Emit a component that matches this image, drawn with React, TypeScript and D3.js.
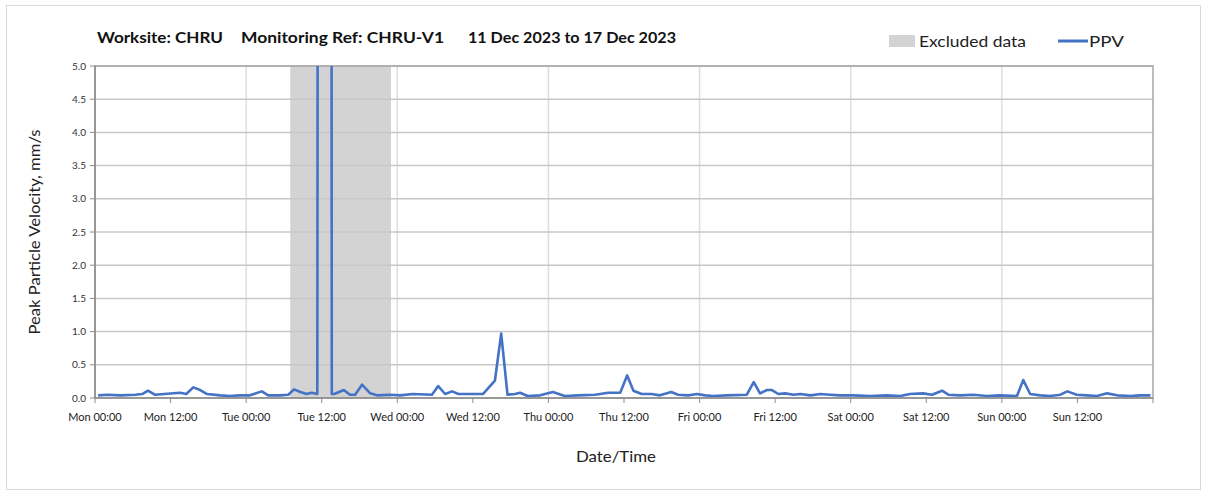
import * as d3 from "d3";

// hours since Mon 00:00 (11 Dec 2023) and PPV readings, mm/s
const hours = [
  0.5, 2, 4, 6.4, 7.5, 8.4, 9.5, 11, 13.5, 14.5, 15.6, 16.7, 17.8, 19.9, 21.4, 23,
  24.6, 26.5, 27.5, 29.4, 30.7, 31.6, 32.6, 33.6, 34.4, 35.3, 35.6, 37.4, 37.6, 38, 39.5, 40.5, 41.3, 42.4, 43.7, 44.8, 46.9,
  48.4, 50.5, 53.5, 54.5, 55.6, 56.7, 57.7, 59.8, 61.6, 63.5, 64.5, 65.5, 66.7, 67.5, 68.7, 70.7,
  72.7, 74.6, 76.7, 79.4, 81.5, 83.4, 84.5, 85.5, 86.8, 88.4, 89.7, 91.5, 92.6, 94.2, 95.6,
  96.9, 98.2, 100.3, 103.5, 104.6, 105.6, 106.7, 107.5, 108.5, 109.6, 110.9, 112, 113.6, 115.2, 116.7, 118.3, 120.4,
  123.1, 125.7, 127.9, 129.4, 131.5, 132.9, 134.5, 135.5, 137.4, 139.5, 141.6, 143.7,
  146.4, 147.4, 148.5, 150.1, 151.7, 153.3, 154.4, 155.9, 157.5, 159.1, 160.7, 162.3, 164.4, 166, 167.6,
];
const ppv = [
  0.04, 0.05, 0.04, 0.05, 0.06, 0.11, 0.05, 0.06, 0.08, 0.06, 0.16, 0.12, 0.06, 0.04, 0.03, 0.04,
  0.04, 0.1, 0.04, 0.04, 0.05, 0.13, 0.09, 0.06, 0.08, 0.06, 30, 30, 0.06, 0.06, 0.12, 0.05, 0.05, 0.2, 0.07, 0.04, 0.05,
  0.04, 0.06, 0.05, 0.18, 0.06, 0.1, 0.06, 0.06, 0.06, 0.26, 0.97, 0.05, 0.06, 0.08, 0.03, 0.04,
  0.09, 0.03, 0.04, 0.05, 0.08, 0.08, 0.34, 0.11, 0.06, 0.06, 0.04, 0.09, 0.05, 0.04, 0.06,
  0.04, 0.03, 0.04, 0.05, 0.24, 0.07, 0.12, 0.12, 0.06, 0.07, 0.05, 0.06, 0.04, 0.06, 0.05, 0.04, 0.04,
  0.03, 0.04, 0.03, 0.06, 0.07, 0.05, 0.11, 0.05, 0.04, 0.05, 0.03, 0.04,
  0.03, 0.27, 0.06, 0.04, 0.03, 0.05, 0.1, 0.05, 0.04, 0.03, 0.07, 0.04, 0.03, 0.04, 0.04,
];
const excluded = [31, 47];
const days = ["Mon", "Tue", "Wed", "Thu", "Fri", "Sat", "Sun"];
const yTicks = [0, 0.5, 1, 1.5, 2, 2.5, 3, 3.5, 4, 4.5, 5];

const W = 1208;
const H = 492;
const m = { left: 95, right: 1153, top: 66, bottom: 398 };
const font = "Lato, 'Noto Sans', sans-serif";
const blue = "#4472c4";

export default function App() {
  const x = d3.scaleLinear().domain([0, 168]).range([m.left, m.right]);
  const y = d3.scaleLinear().domain([0, 5]).range([m.bottom, m.top]);
  const points = hours.map((h, i) => [h, ppv[i]] as [number, number]);
  const line = d3
    .line<[number, number]>()
    .x((d) => x(d[0]))
    .y((d) => y(d[1]));
  const dayTicks = d3.range(0, 169, 24);
  const halfTicks = d3.range(0, 169, 12);

  return (
    <div style={{ position: "absolute", left: 0, top: 0 }}>
      <svg width={W} height={H} style={{ display: "block", background: "#fff" }}>
        <defs>
          <clipPath id="plot">
            <rect x={m.left} y={m.top} width={m.right - m.left} height={m.bottom - m.top} />
          </clipPath>
        </defs>
        <rect x={6.5} y={5.5} width={1194} height={484} fill="#fff" stroke="#d9d9d9" />

        {/* title */}
        <g fontFamily={font} fontWeight={700} fontSize={16} fill="#111">
          <text x={97} y={43} textLength={126} lengthAdjust="spacingAndGlyphs">Worksite: CHRU</text>
          <text x={241} y={43} textLength={203} lengthAdjust="spacingAndGlyphs">Monitoring Ref: CHRU-V1</text>
          <text x={468} y={43} textLength={208} lengthAdjust="spacingAndGlyphs">11 Dec 2023 to 17 Dec 2023</text>
        </g>

        {/* legend */}
        <rect x={889} y={35} width={26} height={12} fill="#d3d3d3" />
        <text x={919} y={47} fontFamily={font} fontSize={16} fill="#222" textLength={107} lengthAdjust="spacingAndGlyphs">
          Excluded data
        </text>
        <line x1={1058} x2={1088} y1={41} y2={41} stroke={blue} strokeWidth={3} />
        <text x={1089} y={47} fontFamily={font} fontSize={16} fill="#222" textLength={35} lengthAdjust="spacingAndGlyphs">
          PPV
        </text>

        {/* excluded band */}
        <rect
          x={x(excluded[0])}
          y={m.top}
          width={x(excluded[1]) - x(excluded[0])}
          height={m.bottom - m.top}
          fill="#d3d3d3"
        />

        {/* grid */}
        {dayTicks.slice(1, -1).map((t) => (
          <line key={"v" + t} x1={x(t)} x2={x(t)} y1={m.top} y2={m.bottom} stroke="#dedede" strokeWidth={1.5} />
        ))}
        {yTicks.slice(1).map((t) => (
          <line key={"h" + t} x1={m.left} x2={m.right} y1={y(t)} y2={y(t)} stroke="#c8c8c8" strokeWidth={1.5} />
        ))}
        <rect
          x={m.left}
          y={m.top}
          width={m.right - m.left}
          height={m.bottom - m.top}
          fill="none"
          stroke="#a6a6a6"
          strokeWidth={1.5}
        />

        {/* series */}
        <path d={line(points) ?? ""} fill="none" stroke={blue} strokeWidth={2.6} strokeLinejoin="round" clipPath="url(#plot)" />

        {/* y axis */}
        <line x1={m.left} x2={m.left} y1={m.top} y2={m.bottom} stroke="#8c8c8c" strokeWidth={1.5} />
        {yTicks.map((t) => (
          <g key={"y" + t}>
            <line x1={m.left - 5} x2={m.left} y1={y(t)} y2={y(t)} stroke="#8c8c8c" />
            <text x={m.left - 9} y={y(t) + 3.5} textAnchor="end" fontFamily={font} fontSize={10} fill="#333">
              {t.toFixed(1)}
            </text>
          </g>
        ))}

        {/* x axis */}
        <line x1={m.left} x2={m.right} y1={m.bottom} y2={m.bottom} stroke="#8c8c8c" strokeWidth={1.5} />
        {halfTicks.map((t) => (
          <line key={"xt" + t} x1={x(t)} x2={x(t)} y1={m.bottom} y2={m.bottom + 5} stroke="#8c8c8c" />
        ))}
        {halfTicks.slice(0, -1).map((t) => (
          <text key={"xl" + t} x={x(t)} y={421} textAnchor="middle" fontFamily={font} fontSize={11} fill="#222">
            {`${days[Math.floor(t / 24)]} ${t % 24 === 0 ? "00" : "12"}:00`}
          </text>
        ))}

        {/* axis titles */}
        <text x={616} y={462} textAnchor="middle" fontFamily={font} fontSize={16} fill="#222" textLength={80} lengthAdjust="spacingAndGlyphs">
          Date/Time
        </text>
        <text
          transform={`translate(40, ${(m.top + m.bottom) / 2}) rotate(-90)`}
          textAnchor="middle"
          fontFamily={font}
          fontSize={15}
          fill="#222"
          textLength={205}
          lengthAdjust="spacingAndGlyphs"
        >
          Peak Particle Velocity, mm/s
        </text>
      </svg>
    </div>
  );
}
